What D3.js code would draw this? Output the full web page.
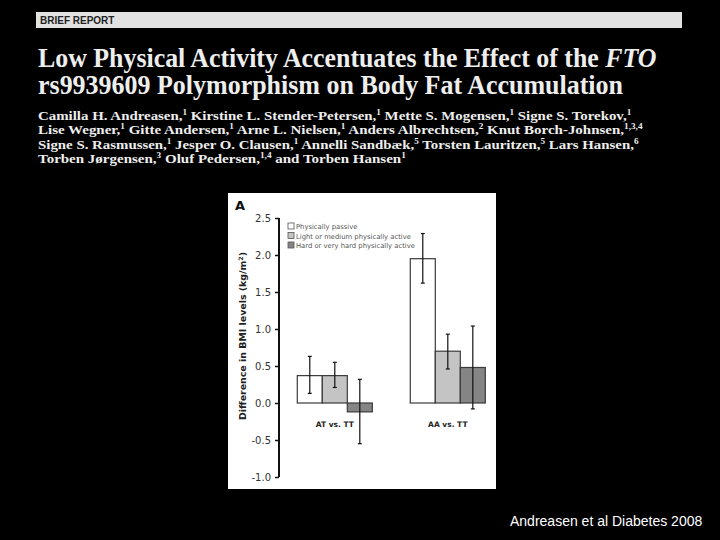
<!DOCTYPE html>
<html>
<head>
<meta charset="utf-8">
<script src="https://cdn.jsdelivr.net/npm/d3@7"></script>
<style>
  html, body { margin: 0; padding: 0; background: #000; }
  svg { display: block; }
</style>
</head>
<body>
<svg id="slide"></svg>
<script>
// chart data
const groups = ["AT vs. TT", "AA vs. TT"];
const levels = ["Physically passive", "Light or medium physically active", "Hard or very hard physically active"];
const means = [[0.37, 0.37, -0.12], [1.95, 0.70, 0.48]];
const errLow = [[0.13, 0.21, -0.55], [1.62, 0.46, -0.08]];
const errHigh = [[0.63, 0.55, 0.32], [2.29, 0.93, 1.04]];
const yTicks = [-1.0, -0.5, 0.0, 0.5, 1.0, 1.5, 2.0, 2.5];
const fills = ["#ffffff", "#c4c4c4", "#858585"];

// slide text
const titleLines = [
    [{ t: "Low Physical Activity Accentuates the Effect of the " }, { t: "FTO", i: true }],
    [{ t: "rs9939609 Polymorphism on Body Fat Accumulation" }]
];
const authorLines = [
    [["Camilla H. Andreasen,", "1"], [" Kirstine L. Stender-Petersen,", "1"], [" Mette S. Mogensen,", "1"], [" Signe S. Torekov,", "1"]],
    [["Lise Wegner,", "1"], [" Gitte Andersen,", "1"], [" Arne L. Nielsen,", "1"], [" Anders Albrechtsen,", "2"], [" Knut Borch-Johnsen,", "1,3,4"]],
    [["Signe S. Rasmussen,", "1"], [" Jesper O. Clausen,", "1"], [" Annelli Sandbæk,", "5"], [" Torsten Lauritzen,", "5"], [" Lars Hansen,", "6"]],
    [["Torben Jørgensen,", "3"], [" Oluf Pedersen,", "1,4"], [" and Torben Hansen", "1"]]
];

const W = 720, H = 540;
const svg = d3.select("#slide").attr("width", W).attr("height", H);

svg.append("rect").attr("width", W).attr("height", H).attr("fill", "#000");

// squeeze a text horizontally so that it spans the given width
function fitWidth(sel, x, yb, width) {
    const w = sel.node().getComputedTextLength();
    sel.attr("x", 0).attr("y", 0)
        .attr("transform", `translate(${x},${yb}) scale(${width / w},1)`);
}

// header band
svg.append("rect")
    .attr("x", 36).attr("y", 12).attr("width", 646).attr("height", 16)
    .attr("fill", "#e2e2e2");
svg.append("text")
    .attr("x", 40).attr("y", 24)
    .attr("font-family", "Liberation Sans, Arial, sans-serif")
    .attr("font-weight", "bold")
    .attr("font-size", 10)
    .attr("fill", "#222")
    .text("BRIEF REPORT");

// title
const titleLen = [619, 585];
titleLines.forEach((parts, i) => {
    const t = svg.append("text")
        .attr("font-family", "Liberation Serif, Times New Roman, serif")
        .attr("font-weight", "bold")
        .attr("font-size", 28)
        .attr("fill", "#eee");
    parts.forEach(p => {
        t.append("tspan").attr("font-style", p.i ? "italic" : null).text(p.t);
    });
    fitWidth(t, 38, 67 + i * 27, titleLen[i]);
});

// authors
const authorLen = [594, 605, 601, 368];
authorLines.forEach((names, i) => {
    const t = svg.append("text")
        .attr("font-family", "Liberation Serif, Times New Roman, serif")
        .attr("font-weight", "bold")
        .attr("font-size", 13)
        .attr("fill", "#eee");
    names.forEach(([name, sup], k) => {
        t.append("tspan").attr("dy", k === 0 ? 0 : 5).text(name);
        t.append("tspan").attr("dy", -5).attr("font-size", 8).text(sup);
    });
    fitWidth(t, 38, 119.7 + i * 14.5, authorLen[i]);
});

// chart panel
svg.append("rect")
    .attr("x", 228).attr("y", 193).attr("width", 268).attr("height", 296)
    .attr("fill", "#fff");

svg.append("text")
    .attr("x", 235).attr("y", 210)
    .attr("font-family", "DejaVu Sans, Verdana, sans-serif")
    .attr("font-weight", "bold")
    .attr("font-size", 13)
    .attr("fill", "#111")
    .text("A");

const y = d3.scaleLinear().domain([-1, 2.5]).range([477, 218]);
const x0 = d3.scaleBand().domain(groups).range([278.3, 504.3]).paddingInner(0.336).paddingOuter(0.168);
const x1 = d3.scaleBand().domain(d3.range(levels.length)).range([0, x0.bandwidth()]).padding(0);

// y axis
const yAxis = svg.append("g")
    .attr("transform", "translate(279,0)")
    .call(d3.axisLeft(y).tickValues(yTicks).tickSize(4).tickPadding(4).tickFormat(d3.format(".1f")));
yAxis.select(".domain").attr("stroke", "#111").attr("stroke-width", 2).attr("d", `M0,${y(2.5)}V${y(-1)}`);
yAxis.selectAll(".tick line").attr("stroke", "#111").attr("stroke-width", 1.5);
yAxis.selectAll(".tick text")
    .attr("font-family", "DejaVu Sans, Verdana, sans-serif")
    .attr("font-size", 10)
    .attr("fill", "#333")
    .text(d => d < 0 ? "-" + d3.format(".1f")(-d) : d3.format(".1f")(d));

svg.append("text")
    .attr("transform", `translate(246,${336}) rotate(-90)`)
    .attr("text-anchor", "middle")
    .attr("font-family", "DejaVu Sans, Verdana, sans-serif")
    .attr("font-weight", "bold")
    .attr("font-size", 9)
    .attr("fill", "#222")
    .attr("textLength", 168)
    .attr("lengthAdjust", "spacingAndGlyphs")
    .call(t => {
        t.append("tspan").text("Difference in BMI levels (kg/m");
        t.append("tspan").attr("dy", -3).attr("font-size", 6).text("2");
        t.append("tspan").attr("dy", 3).text(")");
    });

// bars
const gBars = svg.append("g");
groups.forEach((g, gi) => {
    const gg = gBars.append("g").attr("transform", `translate(${x0(g)},0)`);
    gg.selectAll("rect")
        .data(means[gi])
        .join("rect")
        .attr("x", (d, i) => x1(i))
        .attr("y", d => y(Math.max(0, d)))
        .attr("width", x1.bandwidth())
        .attr("height", d => Math.abs(y(d) - y(0)))
        .attr("fill", (d, i) => fills[i])
        .attr("stroke", "#3a3a3a")
        .attr("stroke-width", 1.2);

    const err = gg.selectAll("g.err")
        .data(means[gi].map((d, i) => ({ i, lo: errLow[gi][i], hi: errHigh[gi][i] })))
        .join("g")
        .attr("class", "err")
        .attr("stroke", "#111")
        .attr("stroke-width", 1.2);
    const cx = d => x1(d.i) + x1.bandwidth() / 2;
    err.append("line")
        .attr("x1", cx).attr("x2", cx)
        .attr("y1", d => y(d.hi)).attr("y2", d => y(d.lo));
    err.append("line")
        .attr("x1", d => cx(d) - 2).attr("x2", d => cx(d) + 2)
        .attr("y1", d => y(d.hi)).attr("y2", d => y(d.hi));
    err.append("line")
        .attr("x1", d => cx(d) - 2).attr("x2", d => cx(d) + 2)
        .attr("y1", d => y(d.lo)).attr("y2", d => y(d.lo));

    gg.append("text")
        .attr("x", x0.bandwidth() / 2)
        .attr("y", 427)
        .attr("text-anchor", "middle")
        .attr("font-family", "DejaVu Sans, Verdana, sans-serif")
        .attr("font-weight", "bold")
        .attr("font-size", 7.5)
        .attr("fill", "#222")
        .text(g);
});

// legend
const legend = svg.append("g").attr("transform", "translate(288,223)");
levels.forEach((l, i) => {
    const row = legend.append("g").attr("transform", `translate(0,${i * 9.5})`);
    row.append("rect")
        .attr("width", 6).attr("height", 6)
        .attr("fill", fills[i])
        .attr("stroke", "#555").attr("stroke-width", 0.8);
    row.append("text")
        .attr("x", 8).attr("y", 6)
        .attr("font-family", "DejaVu Sans, Verdana, sans-serif")
        .attr("font-size", 6.8)
        .attr("fill", "#555")
        .text(l);
});

// citation
svg.append("text")
    .attr("x", 510).attr("y", 526)
    .attr("font-family", "Liberation Sans, Arial, sans-serif")
    .attr("font-size", 14)
    .attr("fill", "#fff")
    .text("Andreasen et al Diabetes 2008");
</script>
</body>
</html>
